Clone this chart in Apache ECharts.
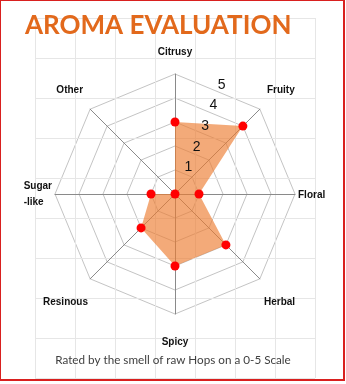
<!DOCTYPE html>
<html>
<head>
<meta charset="utf-8">
<script src="https://cdn.jsdelivr.net/npm/echarts@6/dist/echarts.min.js"></script>
<style>
  html, body { margin: 0; padding: 0; background: #fff; }
  #chart { width: 346px; height: 384px; }
</style>
</head>
<body>
<div id="chart"></div>
<script>
// aroma categories, clockwise from the top
var aromas = ['Citrusy', 'Fruity', 'Floral', 'Herbal', 'Spicy', 'Resinous', 'Sugar\n-like', 'Other'];
var scores = [3, 4, 1, 3, 3, 2, 1, 0];
var scaleLabels = ['1', '2', '3', '4', '5'];
var maxScore = 5;

// echarts radar runs counter-clockwise, so flip the order after the first one
function cw(arr) {
    return [arr[0]].concat(arr.slice(1).reverse());
}

// nudges so the names sit where the spreadsheet put them
var nameKey = { 'Citrusy': 'c', 'Fruity': 'fr', 'Floral': 'fl', 'Herbal': 'h', 'Spicy': 's', 'Resinous': 'r', 'Sugar\n-like': 'sg', 'Other': 'o' };
var nameBase = { fontFamily: 'Liberation Sans', fontWeight: 'bold', fontSize: 10, color: '#111' };
function nameStyle(pad, extra) {
    return Object.assign({}, nameBase, { padding: pad }, extra || {});
}

var myChart = echarts.init(document.getElementById('chart'));

var option = {
    backgroundColor: '#fff',
    animation: false,
    title: {
        text: 'AROMA EVALUATION',
        left: 20,
        top: 8,
        textStyle: { fontFamily: 'Lato', fontWeight: 'bold', fontSize: 26, color: '#E2691C' }
    },
    graphic: [
        {
            type: 'text', left: 'center', top: 354, z: 10,
            style: { text: 'Rated by the smell of raw Hops on a 0-5 Scale', font: '11.7px Lato', fill: '#404040' }
        },
        {
            type: 'rect', z: 100, silent: true,
            shape: { x: 0, y: 0, width: 344, height: 380 },
            style: { fill: 'none', stroke: '#D9201F', lineWidth: 2 }
        }
    ],
    // faint sheet gridlines behind the chart
    grid: { left: 35, top: 18, width: 280, height: 360, z: 0 },
    xAxis: {
        type: 'value', min: 0, max: 7, interval: 1, z: 0,
        axisLine: { show: false }, axisTick: { show: false }, axisLabel: { show: false },
        splitLine: { lineStyle: { color: '#e6e6e6' } }
    },
    yAxis: {
        type: 'value', min: 0, max: 9, interval: 1, z: 0,
        axisLine: { show: false }, axisTick: { show: false }, axisLabel: { show: false },
        splitLine: { lineStyle: { color: '#e6e6e6' } }
    },
    radar: {
        center: [175, 194],
        radius: 120,
        startAngle: 90,
        shape: 'polygon',
        splitNumber: 5,
        nameGap: 3,
        indicator: cw(aromas).map(function (n) { return { name: n, max: maxScore, min: 0 }; }),
        axisName: {
            formatter: function (n) { return '{' + nameKey[n] + '|' + n + '}'; },
            rich: {
                c: nameStyle([0, 0, 14, 0]),
                fr: nameStyle([0, 0, 34, 5]),
                fl: nameStyle([2, 0, 0, 0]),
                h: nameStyle([42, 0, 0, 2]),
                s: nameStyle([20, 0, 0, 0]),
                r: nameStyle([42, 0, 0, 0]),
                sg: nameStyle(0, { lineHeight: 16, align: 'left' }),
                o: nameStyle([0, 5, 34, 0])
            }
        },
        axisLine: { lineStyle: { color: '#8a8a8a' } },
        splitLine: { lineStyle: { color: '#c4c4c4' } },
        splitArea: { show: false }
    },
    // only used to put the 1..5 scale labels on a slanted line
    polar: { center: [184, 188], radius: 120 },
    angleAxis: { type: 'value', startAngle: 68, show: false },
    radiusAxis: {
        type: 'value', min: 0, max: 5.4, interval: 1, z: 10,
        axisLine: { show: false }, axisTick: { show: false }, splitLine: { show: false },
        axisLabel: {
            showMaxLabel: false, margin: 0, color: '#111', fontFamily: 'Liberation Sans', fontSize: 14,
            formatter: function (v) { return v >= 1 ? scaleLabels[v - 1] : ''; }
        }
    },
    series: [{
        type: 'radar',
        symbol: 'circle',
        symbolSize: 9,
        itemStyle: { color: '#FF0000' },
        lineStyle: { width: 0 },
        areaStyle: { color: '#ED7D31', opacity: 0.65 },
        data: [{ value: cw(scores), name: 'Aroma' }]
    }]
};

myChart.setOption(option);
</script>
</body>
</html>
